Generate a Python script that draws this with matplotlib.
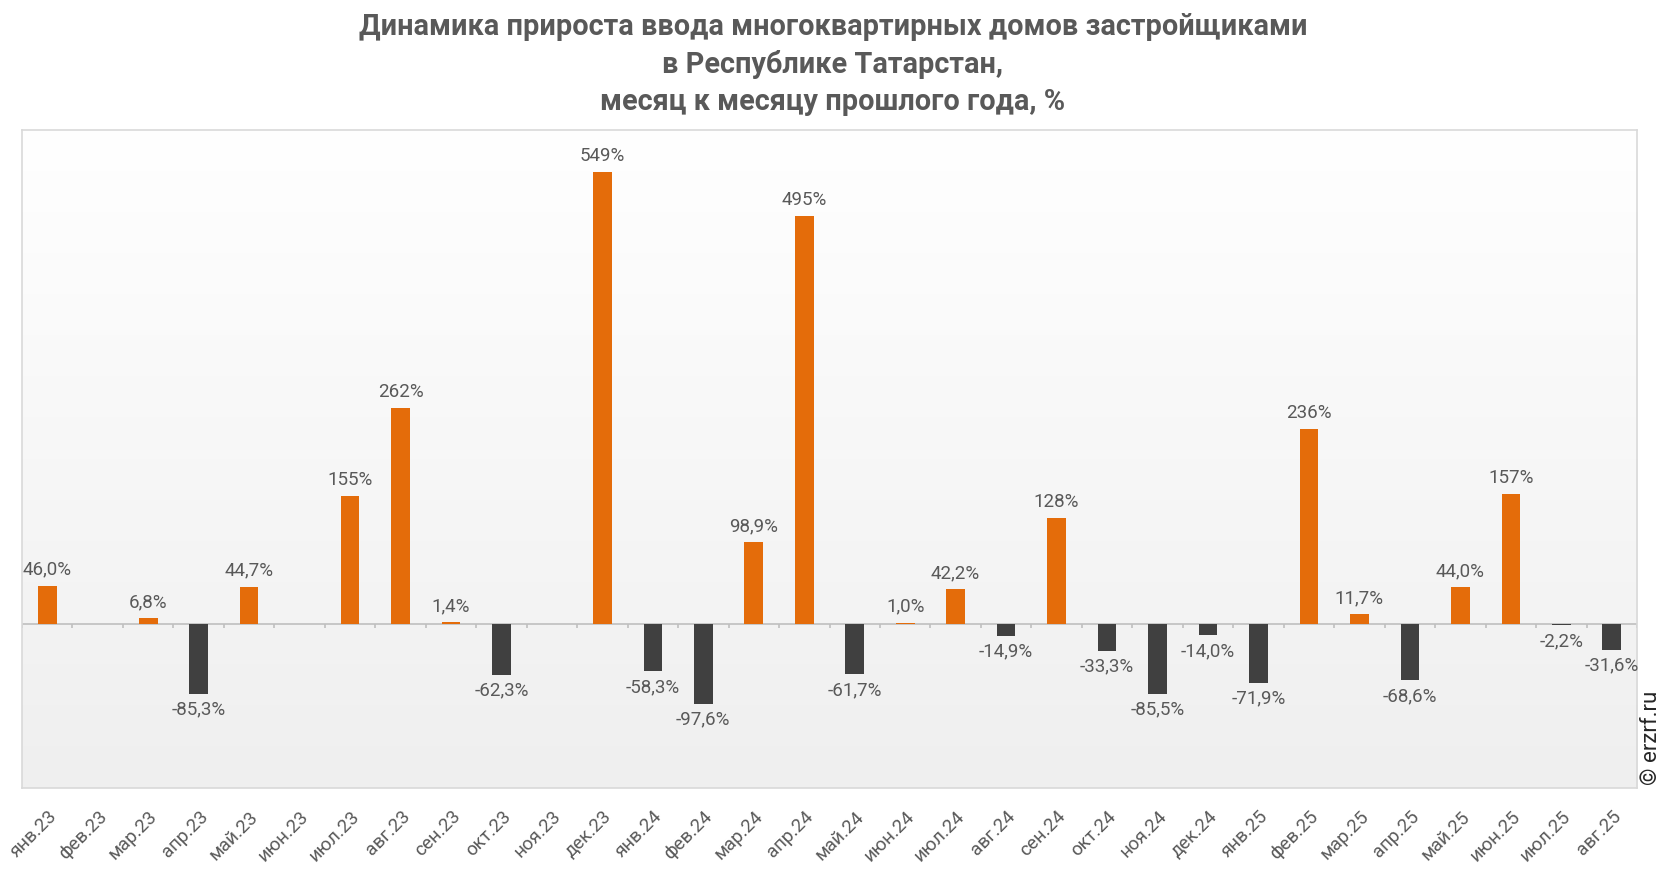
import numpy as np
import matplotlib
matplotlib.use('Agg')
import matplotlib.pyplot as plt
from matplotlib.colors import LinearSegmentedColormap

plt.rcParams['font.family'] = ['Roboto', 'DejaVu Sans']

months = ['янв.23', 'фев.23', 'мар.23', 'апр.23', 'май.23', 'июн.23', 'июл.23', 'авг.23',
          'сен.23', 'окт.23', 'ноя.23', 'дек.23', 'янв.24', 'фев.24', 'мар.24', 'апр.24',
          'май.24', 'июн.24', 'июл.24', 'авг.24', 'сен.24', 'окт.24', 'ноя.24', 'дек.24',
          'янв.25', 'фев.25', 'мар.25', 'апр.25', 'май.25', 'июн.25', 'июл.25', 'авг.25']
growth = [46.0, None, 6.8, -85.3, 44.7, None, 155, 262,
          1.4, -62.3, None, 549, -58.3, -97.6, 98.9, 495,
          -61.7, 1.0, 42.2, -14.9, 128, -33.3, -85.5, -14.0,
          -71.9, 236, 11.7, -68.6, 44.0, 157, -2.2, -31.6]
labels = ['46,0%', '', '6,8%', '-85,3%', '44,7%', '', '155%', '262%',
          '1,4%', '-62,3%', '', '549%', '-58,3%', '-97,6%', '98,9%', '495%',
          '-61,7%', '1,0%', '42,2%', '-14,9%', '128%', '-33,3%', '-85,5%', '-14,0%',
          '-71,9%', '236%', '11,7%', '-68,6%', '44,0%', '157%', '-2,2%', '-31,6%']

ORANGE = '#E46C0A'
DARK = '#404040'
TXT = '#595959'

fig = plt.figure(figsize=(16.66, 8.72), dpi=100)
ax = fig.add_axes([0.0132, 0.0963, 0.9694, 0.7546])

ymin, ymax = -200, 600
n = len(months)
x = np.arange(n)

# background gradient (white at top -> light gray at bottom)
cmap = LinearSegmentedColormap.from_list('bg', ['#EFEFEF', '#FFFFFF'])
grad = np.linspace(0, 1, 256).reshape(-1, 1)
ax.imshow(grad, extent=[-0.5, n - 0.5, ymin, ymax], origin='lower', aspect='auto',
          cmap=cmap, zorder=0)

vals = np.array([np.nan if v is None else v for v in growth], dtype=float)
colors = [ORANGE if (not np.isnan(v) and v >= 0) else DARK for v in vals]
mask = ~np.isnan(vals)
ax.bar(x[mask], vals[mask], width=0.37, color=np.array(colors)[mask], zorder=3)

for xi, v, lab in zip(x, vals, labels):
    if np.isnan(v):
        continue
    if v >= 0:
        ax.annotate(lab, (xi, v), xytext=(0, 5), textcoords='offset points',
                    ha='center', va='bottom', fontsize=13.5, color=TXT, zorder=4)
    else:
        ax.annotate(lab, (xi, v), xytext=(0, -5), textcoords='offset points',
                    ha='center', va='top', fontsize=13.5, color=TXT, zorder=4)

# zero line with category boundary ticks
ax.axhline(0, color='#BFBFBF', lw=1.2, zorder=2)
ax.vlines(np.arange(n + 1) - 0.5, -6, 0, color='#BFBFBF', lw=1.2, zorder=2)

ax.set_xlim(-0.5, n - 0.5)
ax.set_ylim(ymin, ymax)
ax.set_yticks([])
ax.set_xticks(x)
ax.set_xticklabels(months, rotation=45, ha='right', rotation_mode='anchor',
                   fontsize=13.5, color=TXT)
ax.tick_params(axis='x', length=0, pad=14)
for s in ax.spines.values():
    s.set_color('#D9D9D9')
    s.set_linewidth(1.2)

fig.text(0.5, 0.985, 'Динамика прироста ввода многоквартирных домов застройщиками\n'
         'в Республике Татарстан,\nмесяц к месяцу прошлого года, %',
         ha='center', va='top', fontsize=20.8, fontweight='bold', color=TXT,
         linespacing=1.4)

fig.text(0.991, 0.1, '© erzrf.ru', rotation=90, ha='center', va='bottom',
         fontsize=16, color='#262626')

fig.savefig('out.png', dpi=100, facecolor='white')
